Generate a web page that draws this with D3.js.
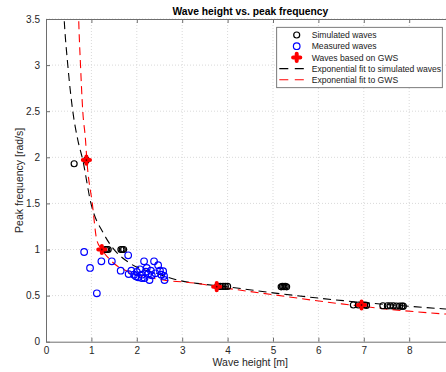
<!DOCTYPE html>
<html>
<head>
<meta charset="utf-8">
<script src="https://cdn.jsdelivr.net/npm/d3@7"></script>
<style>
  body { margin: 0; background: #fff; }
  svg { font-family: "Liberation Sans", Arial, sans-serif; }
</style>
</head>
<body>
<div id="chart"></div>
<script>
// Data
const simulated = [
    [0.62, 1.93], [0.89, 1.97],
    [1.31, 1.0], [1.34, 1.0], [1.37, 1.0],
    [1.65, 1.0], [1.68, 1.0], [1.71, 1.0],
    [3.78, 0.6], [3.84, 0.6], [3.9, 0.6], [3.95, 0.6], [4.0, 0.6],
    [5.18, 0.595], [5.21, 0.6], [5.24, 0.597], [5.27, 0.6], [5.3, 0.595],
    [6.77, 0.398], [6.88, 0.398], [6.95, 0.4], [7.02, 0.398], [7.06, 0.395],
    [7.42, 0.39], [7.52, 0.39], [7.58, 0.39], [7.65, 0.39], [7.72, 0.387], [7.79, 0.387], [7.84, 0.385], [7.87, 0.385]
];
const measured = [
    [0.84, 0.973], [0.97, 0.80], [1.12, 0.525], [1.22, 0.872], [1.45, 0.872],
    [1.81, 0.937], [1.645, 0.77], [1.82, 0.734], [1.88, 0.77], [1.94, 0.727],
    [2.0, 0.756], [2.03, 0.698], [2.07, 0.785], [2.11, 0.727], [2.16, 0.872],
    [2.17, 0.69], [2.22, 0.80], [2.25, 0.734], [2.28, 0.669], [2.31, 0.77],
    [2.33, 0.72], [2.38, 0.872], [2.41, 0.742], [2.47, 0.829], [2.51, 0.77],
    [2.54, 0.727], [2.58, 0.764], [2.6, 0.713], [2.61, 0.669], [2.11, 0.69],
    [2.2, 0.76], [1.98, 0.71]
];
const gws = [[0.89, 1.97], [1.23, 1.0], [3.76, 0.597], [6.95, 0.398]];

const fitSimulated = [
    [0.36, 3.9], [0.40, 3.5], [0.48, 3.0], [0.59, 2.5], [0.70, 2.19], [0.81, 1.97],
    [0.99, 1.5], [1.26, 1.18], [1.45, 1.03], [1.85, 0.85], [2.44, 0.74],
    [2.88, 0.67], [3.32, 0.633], [4.0, 0.595], [5.0, 0.53], [6.55, 0.445], [8.8, 0.355], [9.0, 0.348]
];
const fitGws = [
    [0.70, 3.9], [0.72, 3.5], [0.76, 3.0], [0.81, 2.5], [0.87, 2.19], [0.90, 1.97],
    [1.02, 1.5], [1.12, 1.1], [1.23, 1.0], [1.45, 0.87], [1.92, 0.74],
    [2.58, 0.67], [3.32, 0.633], [3.76, 0.597], [5.0, 0.51], [6.51, 0.41], [8.8, 0.30], [9.0, 0.294]
];

const xTicks = [0, 1, 2, 3, 4, 5, 6, 7, 8];
const yTicks = [0, 0.5, 1, 1.5, 2, 2.5, 3, 3.5];

const legendItems = [
    { label: "Simulated waves", type: "sim" },
    { label: "Measured waves", type: "meas" },
    { label: "Waves based on GWS", type: "gws" },
    { label: "Exponential fit to simulated waves", type: "fitSim" },
    { label: "Exponential fit to GWS", type: "fitGws" }
];

const width = 446, height = 372;
const margin = { left: 46, top: 19 };
const plotW = 408.6, plotH = 322.7;

const svg = d3.select("#chart").append("svg")
    .attr("width", width)
    .attr("height", height);

const x = d3.scaleLinear().domain([0, 9]).range([0, plotW]);
const y = d3.scaleLinear().domain([0, 3.5]).range([plotH, 0]);

const g = svg.append("g").attr("transform", `translate(${margin.left},${margin.top})`);

svg.append("defs").append("clipPath").attr("id", "clip")
    .append("rect").attr("width", plotW).attr("height", plotH);

// grid
g.append("g").selectAll("line").data(xTicks.slice(1)).enter().append("line")
    .attr("x1", d => x(d)).attr("x2", d => x(d))
    .attr("y1", 0).attr("y2", plotH)
    .attr("stroke", "#d9d9d9").attr("stroke-dasharray", "1,2");
g.append("g").selectAll("line").data(yTicks.slice(1)).enter().append("line")
    .attr("x1", 0).attr("x2", plotW)
    .attr("y1", d => y(d)).attr("y2", d => y(d))
    .attr("stroke", "#d9d9d9").attr("stroke-dasharray", "1,2");

// axes
const axisColor = "#6e6e6e";
function styleAxis(sel) {
    sel.select(".domain").attr("stroke", axisColor);
    sel.selectAll(".tick line").attr("stroke", axisColor);
    sel.selectAll(".tick text").attr("fill", "#262626").style("font-size", "10px");
}
g.append("g").attr("transform", `translate(0,${plotH})`)
    .call(d3.axisBottom(x).tickValues(xTicks).tickSizeInner(-4).tickSizeOuter(0).tickPadding(5))
    .call(styleAxis);
g.append("g")
    .call(d3.axisTop(x).tickValues(xTicks).tickSizeInner(-4).tickSizeOuter(0).tickFormat(""))
    .call(styleAxis);
g.append("g")
    .call(d3.axisLeft(y).tickValues(yTicks).tickSizeInner(-4).tickSizeOuter(0).tickPadding(6).tickFormat(d3.format("~g")))
    .call(styleAxis);
g.append("g").attr("transform", `translate(${plotW},0)`)
    .call(d3.axisRight(y).tickValues(yTicks).tickSizeInner(-4).tickSizeOuter(0).tickFormat(""))
    .call(styleAxis);

const plot = g.append("g").attr("clip-path", "url(#clip)");

// fitted curves
const line = d3.line().x(d => x(d[0])).y(d => y(d[1])).curve(d3.curveMonotoneX);
plot.append("path").datum(fitSimulated)
    .attr("d", line).attr("fill", "none")
    .attr("stroke", "#000").attr("stroke-width", 1.1).attr("stroke-dasharray", "8,5");
plot.append("path").datum(fitGws)
    .attr("d", line).attr("fill", "none")
    .attr("stroke", "#ff0000").attr("stroke-width", 1.1).attr("stroke-dasharray", "8,5");

// markers
function drawPlus(sel, cx, cy) {
    const s = 3.6;
    sel.append("path")
        .attr("d", `M${cx - s},${cy}L${cx + s},${cy}M${cx},${cy - s}L${cx},${cy + s}`)
        .attr("stroke", "#ff0000").attr("stroke-width", 4).attr("stroke-linecap", "round");
}

plot.append("g").selectAll("circle").data(simulated).enter().append("circle")
    .attr("cx", d => x(d[0])).attr("cy", d => y(d[1])).attr("r", 3)
    .attr("fill", "none").attr("stroke", "#000").attr("stroke-width", 1.2);

plot.append("g").selectAll("circle").data(measured).enter().append("circle")
    .attr("cx", d => x(d[0])).attr("cy", d => y(d[1])).attr("r", 3.3)
    .attr("fill", "none").attr("stroke", "#0000ff").attr("stroke-width", 1.2);

const gwsG = plot.append("g");
gws.forEach(d => drawPlus(gwsG, x(d[0]), y(d[1])));
gwsG.selectAll("circle").data(gws).enter().append("circle")
    .attr("cx", d => x(d[0])).attr("cy", d => y(d[1])).attr("r", 0.9)
    .attr("fill", "#5a0000");

// titles
svg.append("text")
    .attr("x", margin.left + plotW / 2).attr("y", 14.5)
    .attr("text-anchor", "middle")
    .style("font-size", "10.3px").style("font-weight", "bold")
    .attr("fill", "#000")
    .text("Wave height vs. peak frequency");

svg.append("text")
    .attr("x", margin.left + plotW / 2).attr("y", 366)
    .attr("text-anchor", "middle")
    .style("font-size", "10.5px").attr("fill", "#262626")
    .text("Wave height [m]");

svg.append("text")
    .attr("transform", `translate(23,${margin.top + plotH / 2}) rotate(-90)`)
    .attr("text-anchor", "middle")
    .style("font-size", "10.5px").attr("fill", "#262626")
    .text("Peak frequency [rad/s]");

// legend
const legend = svg.append("g");
legend.append("rect")
    .attr("x", 276.7).attr("y", 27.3)
    .attr("width", 165.6).attr("height", 60.4)
    .attr("fill", "#fff").attr("stroke", "#5a5a5a").attr("stroke-width", 0.8);

legendItems.forEach((item, i) => {
    const ly = 35 + i * 11.2;
    const lg = legend.append("g");
    if (item.type === "sim") {
        lg.append("circle").attr("cx", 296.7).attr("cy", ly).attr("r", 3)
            .attr("fill", "none").attr("stroke", "#000").attr("stroke-width", 1.2);
    } else if (item.type === "meas") {
        lg.append("circle").attr("cx", 296.7).attr("cy", ly).attr("r", 3.3)
            .attr("fill", "none").attr("stroke", "#0000ff").attr("stroke-width", 1.2);
    } else if (item.type === "gws") {
        drawPlus(lg, 296.7, ly);
    } else {
        lg.append("line").attr("x1", 279.3).attr("x2", 304).attr("y1", ly).attr("y2", ly)
            .attr("stroke", item.type === "fitSim" ? "#000" : "#ff0000")
            .attr("stroke-width", 1.1).attr("stroke-dasharray", "9,6.5");
    }
    lg.append("text").attr("x", 311.7).attr("y", ly + 3.2)
        .style("font-size", "8.6px").attr("fill", "#1a1a1a")
        .text(item.label);
});
</script>
</body>
</html>
